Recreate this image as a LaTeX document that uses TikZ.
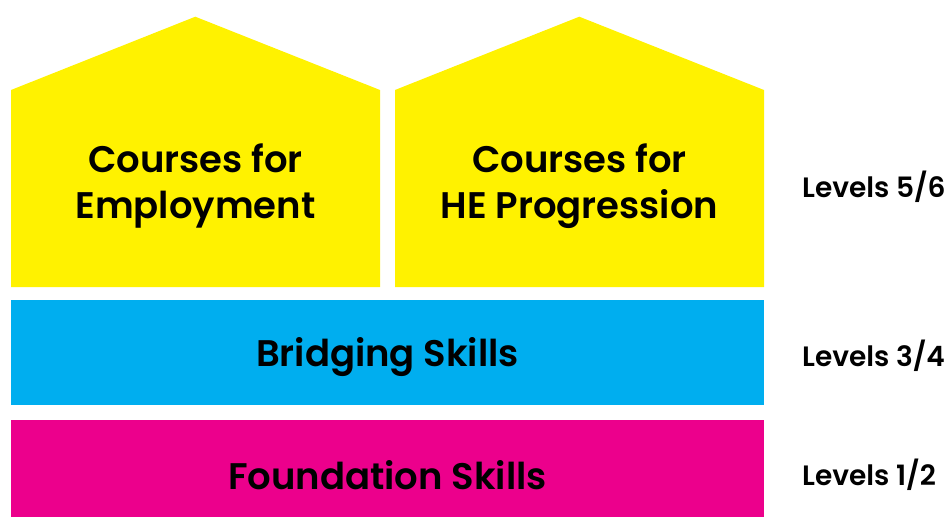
\documentclass[tikz,border=0pt]{standalone}
\usepackage{fontspec}
\setmainfont{Poppins}[UprightFont=* SemiBold, BoldFont=* Bold]
\definecolor{pyellow}{HTML}{FFF200}
\definecolor{pcyan}{HTML}{00AEEF}
\definecolor{pmagenta}{HTML}{EC008C}
\tikzset{
  bigtxt/.style={font=\fontsize{37}{46}\selectfont, align=center, text=black, inner sep=0pt},
  lvltxt/.style={font=\fontsize{28}{32}\selectfont, anchor=west, text=black, inner sep=0pt},
}
\begin{document}
\begin{tikzpicture}[x=1pt,y=-1pt]
\useasboundingbox (0,0) rectangle (950,517);
\fill[pyellow] (11,287) -- (11,90) -- (195.3,16.7) -- (380,90) -- (380,287) -- cycle;
\fill[pyellow] (395,287) -- (395,90) -- (579.3,16.7) -- (764,90) -- (764,287) -- cycle;
\fill[pcyan] (11,300) rectangle (764,405);
\fill[pmagenta] (11,420) rectangle (764,517);
\node[bigtxt] (emp) at (195.5,186) {Courses for\\Employment};
\node[bigtxt] (he) at (579.5,186) {Courses for\\HE Progression};
\node[bigtxt] (bridge) at (387.5,357) {Bridging Skills};
\node[bigtxt] (found) at (387.5,475) {Foundation Skills};
\node[lvltxt] (l56) at (802,187) {Levels 5/6};
\node[lvltxt] (l34) at (802,356) {Levels 3/4};
\node[lvltxt] (l12) at (802,475) {Levels 1/2};
\end{tikzpicture}
\end{document}
